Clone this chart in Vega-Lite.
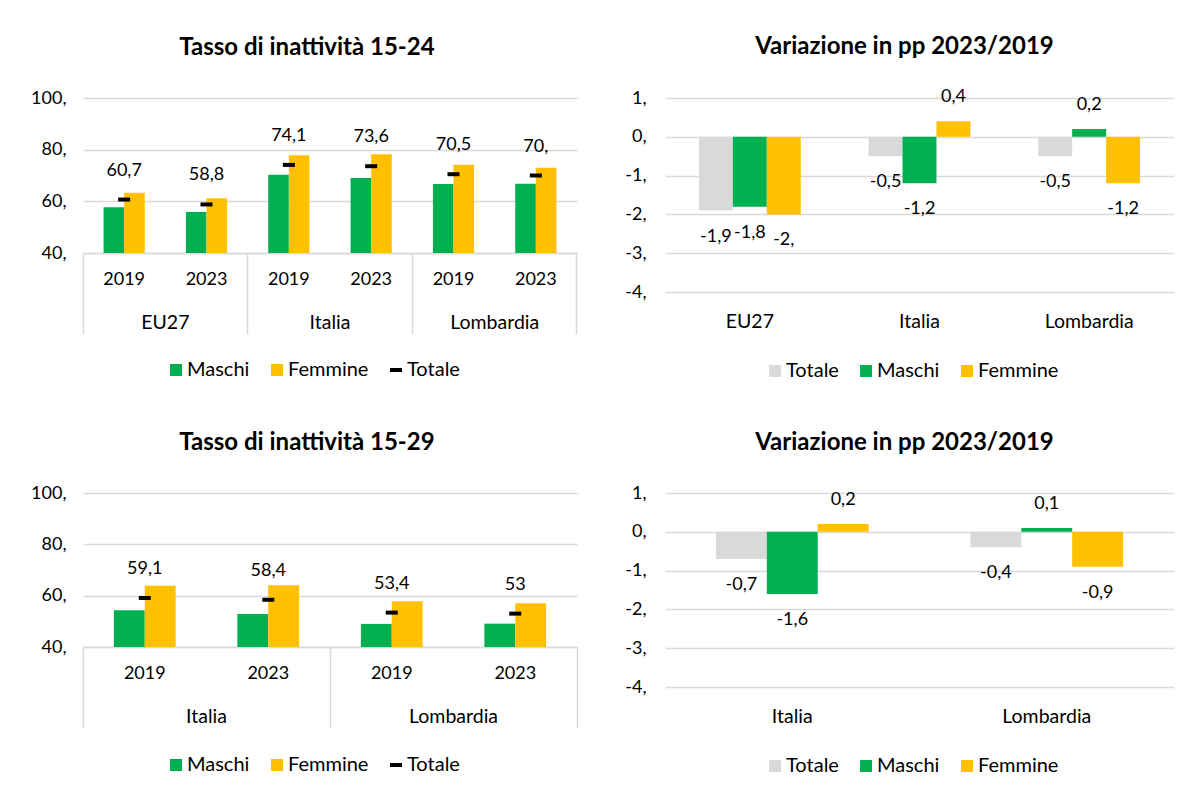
{
  "$schema": "https://vega.github.io/schema/vega-lite/v6.json",
  "background": "white",
  "padding": {"left": 30, "top": 35, "right": 10, "bottom": 10},
  "config": {
    "font": "Lato",
    "view": {"stroke": null},
    "axis": {"labelFont": "Lato", "labelColor": "#000000", "labelFontSize": 18, "title": null},
    "title": {"font": "Lato", "fontSize": 24, "fontWeight": "bold", "color": "#000000"},
    "legend": {"labelFont": "Lato", "labelFontSize": 20, "labelColor": "#000000", "title": null, "symbolStrokeWidth": 0, "padding": 0},
    "text": {"font": "Lato", "fontSize": 18, "color": "#000000"}
  },
  "datasets": {
    "t24": [
      {"paese": "EU27", "k": "EU27 2019", "serie": "Maschi", "v": 57.7},
      {"paese": "EU27", "k": "EU27 2019", "serie": "Femmine", "v": 63.3},
      {"paese": "EU27", "k": "EU27 2019", "serie": "Totale", "v": 60.7, "lab": "60,7"},
      {"paese": "EU27", "k": "EU27 2023", "serie": "Maschi", "v": 55.9},
      {"paese": "EU27", "k": "EU27 2023", "serie": "Femmine", "v": 61.2},
      {"paese": "EU27", "k": "EU27 2023", "serie": "Totale", "v": 58.8, "lab": "58,8"},
      {"paese": "Italia", "k": "Italia 2019", "serie": "Maschi", "v": 70.3},
      {"paese": "Italia", "k": "Italia 2019", "serie": "Femmine", "v": 77.8},
      {"paese": "Italia", "k": "Italia 2019", "serie": "Totale", "v": 74.1, "lab": "74,1"},
      {"paese": "Italia", "k": "Italia 2023", "serie": "Maschi", "v": 69.0},
      {"paese": "Italia", "k": "Italia 2023", "serie": "Femmine", "v": 78.2},
      {"paese": "Italia", "k": "Italia 2023", "serie": "Totale", "v": 73.6, "lab": "73,6"},
      {"paese": "Lombardia", "k": "Lombardia 2019", "serie": "Maschi", "v": 66.7},
      {"paese": "Lombardia", "k": "Lombardia 2019", "serie": "Femmine", "v": 74.2},
      {"paese": "Lombardia", "k": "Lombardia 2019", "serie": "Totale", "v": 70.5, "lab": "70,5"},
      {"paese": "Lombardia", "k": "Lombardia 2023", "serie": "Maschi", "v": 66.8},
      {"paese": "Lombardia", "k": "Lombardia 2023", "serie": "Femmine", "v": 73.0},
      {"paese": "Lombardia", "k": "Lombardia 2023", "serie": "Totale", "v": 70.0, "lab": "70,"}
    ],
    "t29": [
      {"paese": "Italia", "k": "Italia 2019", "serie": "Maschi", "v": 54.3},
      {"paese": "Italia", "k": "Italia 2019", "serie": "Femmine", "v": 63.9},
      {"paese": "Italia", "k": "Italia 2019", "serie": "Totale", "v": 59.1, "lab": "59,1"},
      {"paese": "Italia", "k": "Italia 2023", "serie": "Maschi", "v": 52.9},
      {"paese": "Italia", "k": "Italia 2023", "serie": "Femmine", "v": 64.1},
      {"paese": "Italia", "k": "Italia 2023", "serie": "Totale", "v": 58.4, "lab": "58,4"},
      {"paese": "Lombardia", "k": "Lombardia 2019", "serie": "Maschi", "v": 49.0},
      {"paese": "Lombardia", "k": "Lombardia 2019", "serie": "Femmine", "v": 57.8},
      {"paese": "Lombardia", "k": "Lombardia 2019", "serie": "Totale", "v": 53.4, "lab": "53,4"},
      {"paese": "Lombardia", "k": "Lombardia 2023", "serie": "Maschi", "v": 49.1},
      {"paese": "Lombardia", "k": "Lombardia 2023", "serie": "Femmine", "v": 57.0},
      {"paese": "Lombardia", "k": "Lombardia 2023", "serie": "Totale", "v": 53.0, "lab": "53"}
    ],
    "v24": [
      {"paese": "EU27", "serie": "Totale", "v": -1.9, "lab": "-1,9"},
      {"paese": "EU27", "serie": "Maschi", "v": -1.8, "lab": "-1,8"},
      {"paese": "EU27", "serie": "Femmine", "v": -2.0, "lab": "-2,"},
      {"paese": "Italia", "serie": "Totale", "v": -0.5, "lab": "-0,5"},
      {"paese": "Italia", "serie": "Maschi", "v": -1.2, "lab": "-1,2"},
      {"paese": "Italia", "serie": "Femmine", "v": 0.4, "lab": "0,4"},
      {"paese": "Lombardia", "serie": "Totale", "v": -0.5, "lab": "-0,5"},
      {"paese": "Lombardia", "serie": "Maschi", "v": 0.2, "lab": "0,2"},
      {"paese": "Lombardia", "serie": "Femmine", "v": -1.2, "lab": "-1,2"}
    ],
    "v29": [
      {"paese": "Italia", "serie": "Totale", "v": -0.7, "lab": "-0,7"},
      {"paese": "Italia", "serie": "Maschi", "v": -1.6, "lab": "-1,6"},
      {"paese": "Italia", "serie": "Femmine", "v": 0.2, "lab": "0,2"},
      {"paese": "Lombardia", "serie": "Totale", "v": -0.4, "lab": "-0,4"},
      {"paese": "Lombardia", "serie": "Maschi", "v": 0.1, "lab": "0,1"},
      {"paese": "Lombardia", "serie": "Femmine", "v": -0.9, "lab": "-0,9"}
    ]
  },
  "columns": 2,
  "bounds": "flush",
  "spacing": {"row": 201, "column": 88},
  "resolve": {
    "scale": {"x": "independent", "y": "independent", "color": "independent", "xOffset": "independent"},
    "axis": {"x": "independent", "y": "independent"},
    "legend": {"color": "independent"}
  },
  "concat": [
    {
      "width": 494,
      "height": 155,
      "title": {"text": "Tasso di inattività 15-24", "dx": -23, "offset": 29},
      "data": {"name": "t24"},
      "encoding": {
        "y": {"field": "v", "type": "quantitative",
          "scale": {"domain": [40, 100], "zero": false, "nice": false},
          "axis": {"values": [40, 60, 80, 100], "grid": true, "gridColor": "#d9d9d9", "gridWidth": 1.5, "domain": false, "ticks": false, "labelPadding": 17, "labelExpr": "datum.value + ','"}}
      },
      "layer": [
        {
          "transform": [{"filter": "datum.serie !== 'Totale'"}],
          "mark": {"type": "bar"},
          "encoding": {
            "x": {"field": "k", "type": "nominal",
              "scale": {"domain": ["EU27 2019", "EU27 2023", "Italia 2019", "Italia 2023", "Lombardia 2019", "Lombardia 2023"], "paddingInner": 0, "paddingOuter": 0},
              "axis": {"orient": "bottom", "labelExpr": "split(datum.value, ' ')[1]", "ticks": false, "domainColor": "#d9d9d9", "domainWidth": 1.5, "labelPadding": 17, "labelAngle": 0}},
            "xOffset": {"field": "serie", "type": "nominal", "sort": ["Maschi", "Femmine"], "scale": {"paddingInner": 0, "paddingOuter": 1.11}},
            "y2": {"datum": 40},
            "color": {"field": "serie", "type": "nominal",
              "scale": {"domain": ["Maschi", "Femmine", "Totale"], "range": ["#00B050", "#FFC000", "#000000"]},
              "legend": {"orient": "none", "legendX": 83, "legendY": 262, "direction": "horizontal", "symbolType": "square", "symbolSize": 144, "columnPadding": 17, "labelOffset": 1,
                "encode": {"symbols": {"update": {"shape": {"signal": "datum.value === 'Totale' ? 'M-1,-0.33H1V0.33H-1Z' : 'square'"}, "opacity": {"value": 1}}}}}}
          }
        },
        {
          "transform": [{"filter": "datum.serie === 'Totale'"}],
          "mark": {"type": "tick", "size": 12, "thickness": 4, "opacity": 1},
          "encoding": {
            "x": {"field": "k", "type": "nominal",
              "axis": {"orient": "bottom", "values": ["EU27 2019", "Italia 2019", "Lombardia 2019"], "bandPosition": 0, "tickSize": 81, "tickColor": "#d9d9d9", "tickWidth": 1.5, "domain": false, "labelExpr": "split(datum.value, ' ')[0]", "labelOffset": 41.17, "labelPadding": -21, "labelAlign": "center", "labelAngle": 0, "labelFontSize": 19.5}},
            "color": {"field": "serie", "type": "nominal"}
          }
        },
        {
          "transform": [{"filter": "datum.serie === 'Totale'"}],
          "mark": {"type": "text", "dy": -29},
          "encoding": {
            "x": {"field": "k", "type": "nominal",
              "axis": {"orient": "bottom", "values": ["Lombardia 2023"], "bandPosition": 1, "tickSize": 81, "tickColor": "#d9d9d9", "tickWidth": 1.5, "domain": false, "labels": false}},
            "text": {"field": "lab"}
          }
        }
      ],
      "resolve": {"axis": {"x": "independent"}}
    },
    {
      "width": 509,
      "height": 194,
      "title": {"text": "Variazione in pp 2023/2019", "dx": -15, "offset": 29},
      "data": {"name": "v24"},
      "encoding": {
        "x": {"field": "paese", "type": "nominal",
          "scale": {"domain": ["EU27", "Italia", "Lombardia"], "paddingInner": 0, "paddingOuter": 0},
          "axis": {"ticks": false, "domain": false, "labelPadding": 20, "labelAngle": 0, "labelFontSize": 19.5}},
        "xOffset": {"field": "serie", "type": "nominal", "sort": ["Totale", "Maschi", "Femmine"], "scale": {"paddingInner": 0, "paddingOuter": 1.11}},
        "y": {"field": "v", "type": "quantitative",
          "scale": {"domain": [-4, 1], "nice": false},
          "axis": {"values": [-4, -3, -2, -1, 0, 1], "grid": true, "gridColor": "#d9d9d9", "gridWidth": 1.5, "domain": false, "ticks": false, "labelPadding": 19, "labelExpr": "datum.value + ','"}}
      },
      "layer": [
        {
          "mark": {"type": "bar"},
          "encoding": {
            "color": {"field": "serie", "type": "nominal",
              "scale": {"domain": ["Totale", "Maschi", "Femmine"], "range": ["#D9D9D9", "#00B050", "#FFC000"]},
              "legend": {"orient": "none", "legendX": 100, "legendY": 263, "direction": "horizontal", "symbolType": "square", "symbolSize": 144, "columnPadding": 17, "labelOffset": 1}}
          }
        },
        {
          "transform": [{"filter": "datum.v < 0"}],
          "mark": {"type": "text", "dy": 26},
          "encoding": {"text": {"field": "lab"}}
        },
        {
          "transform": [{"filter": "datum.v >= 0"}],
          "mark": {"type": "text", "dy": -24},
          "encoding": {"text": {"field": "lab"}}
        }
      ]
    },
    {
      "width": 494,
      "height": 154,
      "title": {"text": "Tasso di inattività 15-29", "dx": -23, "offset": 29},
      "data": {"name": "t29"},
      "encoding": {
        "y": {"field": "v", "type": "quantitative",
          "scale": {"domain": [40, 100], "zero": false, "nice": false},
          "axis": {"values": [40, 60, 80, 100], "grid": true, "gridColor": "#d9d9d9", "gridWidth": 1.5, "domain": false, "ticks": false, "labelPadding": 17, "labelExpr": "datum.value + ','"}}
      },
      "layer": [
        {
          "transform": [{"filter": "datum.serie !== 'Totale'"}],
          "mark": {"type": "bar"},
          "encoding": {
            "x": {"field": "k", "type": "nominal",
              "scale": {"domain": ["Italia 2019", "Italia 2023", "Lombardia 2019", "Lombardia 2023"], "paddingInner": 0, "paddingOuter": 0},
              "axis": {"orient": "bottom", "labelExpr": "split(datum.value, ' ')[1]", "ticks": false, "domainColor": "#d9d9d9", "domainWidth": 1.5, "labelPadding": 17, "labelAngle": 0}},
            "xOffset": {"field": "serie", "type": "nominal", "sort": ["Maschi", "Femmine"], "scale": {"paddingInner": 0, "paddingOuter": 1.12}},
            "y2": {"datum": 40},
            "color": {"field": "serie", "type": "nominal",
              "scale": {"domain": ["Maschi", "Femmine", "Totale"], "range": ["#00B050", "#FFC000", "#000000"]},
              "legend": {"orient": "none", "legendX": 83, "legendY": 262, "direction": "horizontal", "symbolType": "square", "symbolSize": 144, "columnPadding": 17, "labelOffset": 1,
                "encode": {"symbols": {"update": {"shape": {"signal": "datum.value === 'Totale' ? 'M-1,-0.33H1V0.33H-1Z' : 'square'"}, "opacity": {"value": 1}}}}}}
          }
        },
        {
          "transform": [{"filter": "datum.serie === 'Totale'"}],
          "mark": {"type": "tick", "size": 12, "thickness": 4, "opacity": 1},
          "encoding": {
            "x": {"field": "k", "type": "nominal",
              "axis": {"orient": "bottom", "values": ["Italia 2019", "Lombardia 2019"], "bandPosition": 0, "tickSize": 81, "tickColor": "#d9d9d9", "tickWidth": 1.5, "domain": false, "labelExpr": "split(datum.value, ' ')[0]", "labelOffset": 61.75, "labelPadding": -21, "labelAlign": "center", "labelAngle": 0, "labelFontSize": 19.5}},
            "color": {"field": "serie", "type": "nominal"}
          }
        },
        {
          "transform": [{"filter": "datum.serie === 'Totale'"}],
          "mark": {"type": "text", "dy": -29},
          "encoding": {
            "x": {"field": "k", "type": "nominal",
              "axis": {"orient": "bottom", "values": ["Lombardia 2023"], "bandPosition": 1, "tickSize": 81, "tickColor": "#d9d9d9", "tickWidth": 1.5, "domain": false, "labels": false}},
            "text": {"field": "lab"}
          }
        }
      ],
      "resolve": {"axis": {"x": "independent"}}
    },
    {
      "width": 509,
      "height": 194,
      "title": {"text": "Variazione in pp 2023/2019", "dx": -15, "offset": 29},
      "data": {"name": "v29"},
      "encoding": {
        "x": {"field": "paese", "type": "nominal",
          "scale": {"domain": ["Italia", "Lombardia"], "paddingInner": 0, "paddingOuter": 0},
          "axis": {"ticks": false, "domain": false, "labelPadding": 20, "labelAngle": 0, "labelFontSize": 19.5}},
        "xOffset": {"field": "serie", "type": "nominal", "sort": ["Totale", "Maschi", "Femmine"], "scale": {"paddingInner": 0, "paddingOuter": 1.1}},
        "y": {"field": "v", "type": "quantitative",
          "scale": {"domain": [-4, 1], "nice": false},
          "axis": {"values": [-4, -3, -2, -1, 0, 1], "grid": true, "gridColor": "#d9d9d9", "gridWidth": 1.5, "domain": false, "ticks": false, "labelPadding": 19, "labelExpr": "datum.value + ','"}}
      },
      "layer": [
        {
          "mark": {"type": "bar"},
          "encoding": {
            "color": {"field": "serie", "type": "nominal",
              "scale": {"domain": ["Totale", "Maschi", "Femmine"], "range": ["#D9D9D9", "#00B050", "#FFC000"]},
              "legend": {"orient": "none", "legendX": 100, "legendY": 263, "direction": "horizontal", "symbolType": "square", "symbolSize": 144, "columnPadding": 17, "labelOffset": 1}}
          }
        },
        {
          "transform": [{"filter": "datum.v < 0"}],
          "mark": {"type": "text", "dy": 26},
          "encoding": {"text": {"field": "lab"}}
        },
        {
          "transform": [{"filter": "datum.v >= 0"}],
          "mark": {"type": "text", "dy": -24},
          "encoding": {"text": {"field": "lab"}}
        }
      ]
    }
  ]
}
